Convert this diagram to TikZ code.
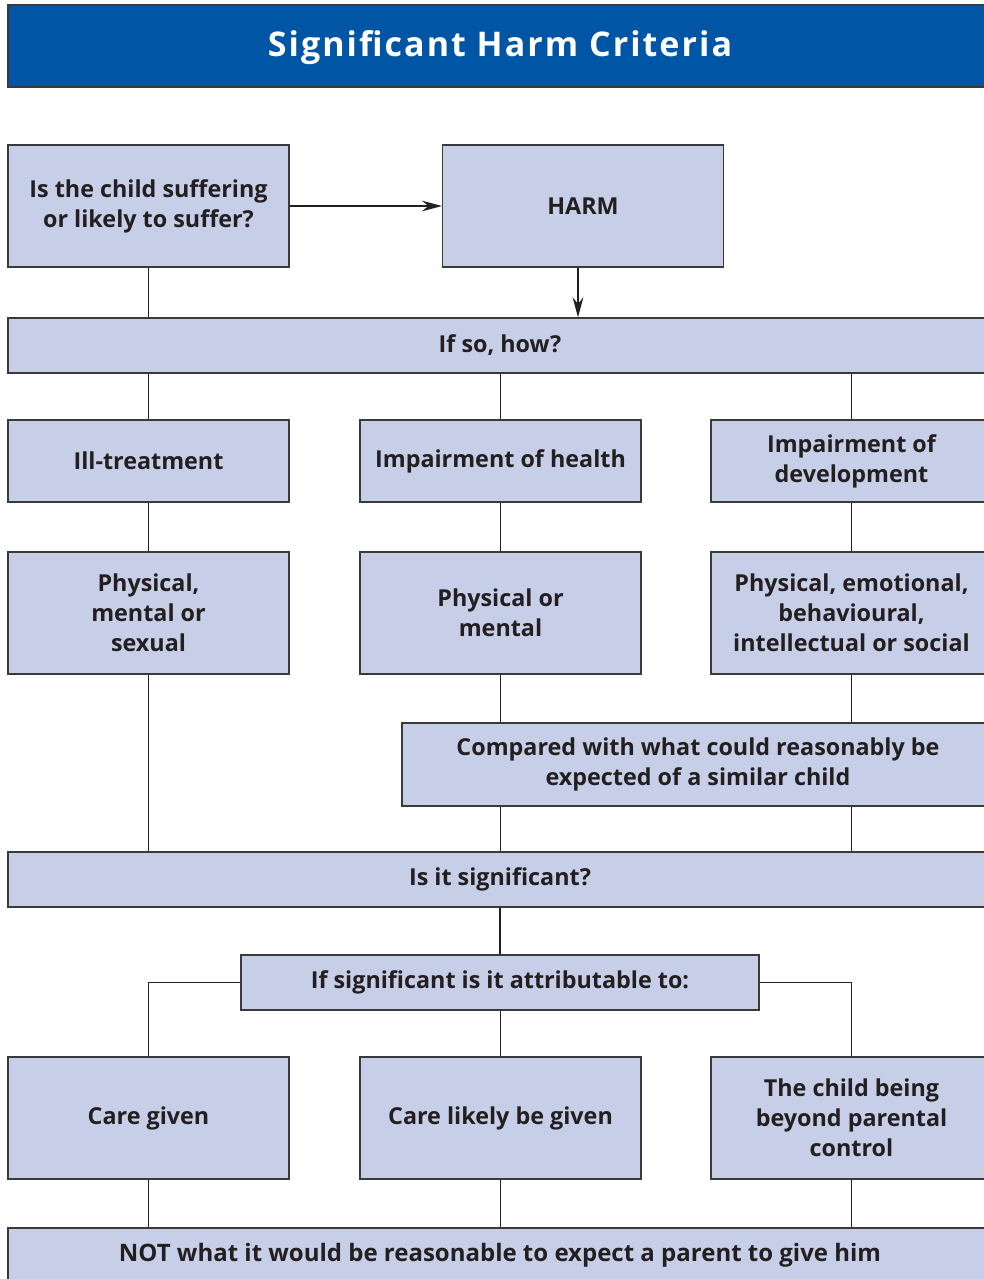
\documentclass[tikz,border=0pt]{standalone}
\usepackage{fontspec}
\setmainfont{Open Sans}
\usetikzlibrary{arrows.meta}
\definecolor{barblue}{HTML}{0055A4}
\definecolor{boxfill}{HTML}{C7CEE7}
\definecolor{boxline}{HTML}{3A3A3A}
\definecolor{ink}{HTML}{231F20}
\tikzset{
  box/.style={draw=boxline, line width=0.9pt, fill=boxfill, align=center,
    inner sep=0pt, font=\fontsize{17.5}{22.5}\selectfont\bfseries, text=ink},
  wide/.style={box, minimum width=738pt, minimum height=#1},
  cell/.style={box, minimum width=210.75pt, minimum height=#1},
  link/.style={line width=1.1pt, draw=ink},
  arr/.style={link, -{Stealth[length=15pt, width=8pt]}}
}
\begin{document}
\begin{tikzpicture}[x=0.75pt, y=-0.75pt]
\clip (0,0) rectangle (984,1279);
\fill[white] (0,0) rectangle (984,1279);

% title bar
\node[draw=boxline, line width=0.9pt, fill=barblue, minimum width=744pt, minimum height=61.5pt,
  inner sep=0pt] (title) at (504,46) {};
\node[text=white, font=\fontsize{25.5}{28}\selectfont\bfseries\addfontfeatures{LetterSpace=6}, inner sep=0pt]
  (titletext) at (500,48) {Significant Harm Criteria};

% top row
\node[cell=91.5pt] (q) at (148.5,206) {Is the child suffering\\or likely to suffer?};
\node[cell=91.5pt] (harm) at (583,206) {HARM};

% first band
\node[wide=41.25pt] (how) at (500,345.5) {If so, how?};

% second row
\node[cell=61.5pt] (ill) at (148.5,461) {Ill-treatment};
\node[cell=61.5pt] (ih) at (500.5,461) {Impairment of health};
\node[cell=61.5pt] (id) at (851.5,461) {Impairment of\\development};

% third row
\node[cell=91.5pt] (pms) at (148.5,613) {Physical,\\mental or\\sexual};
\node[cell=91.5pt] (pm) at (500.5,613) {Physical or\\mental};
\node[cell=91.5pt] (pe) at (851.5,613) {Physical, emotional,\\behavioural,\\intellectual or social};

% comparison
\node[box, minimum width=444pt, minimum height=62.25pt] (cmp) at (698,764.5)
  {Compared with what could reasonably be\\expected of a similar child};

% significance band
\node[wide=41.25pt] (sig) at (500,879.5) {Is it significant?};

% attribution
\node[box, minimum width=388.5pt, minimum height=41.25pt] (attr) at (500,982.5)
  {If significant is it attributable to:};

% fourth row
\node[cell=91.5pt] (cg) at (148.5,1118) {Care given};
\node[cell=91.5pt] (cl) at (500.5,1118) {Care likely be given};
\node[cell=91.5pt] (cb) at (851.5,1118) {The child being\\beyond parental\\control};

% bottom band and its text
\node[wide=48pt] (not) at (500,1260) {};
\node[font=\fontsize{18}{22.5}\selectfont\bfseries, text=ink, inner sep=0pt] (nottext) at (500,1255)
  {NOT what it would be reasonable to expect a parent to give him};

% connectors
\draw[arr] (q) -- (harm);
\draw[arr] ([xshift=-3.75pt]harm.south) -- ([xshift=-3.75pt]harm.south |- how.north);
\draw[link] (q.south) -- (q.south |- how.north);

\draw[link] (ill.north |- how.south) -- (ill.north);
\draw[link] (ih.north |- how.south) -- (ih.north);
\draw[link] (id.north |- how.south) -- (id.north);

\draw[link] (ill.south) -- (pms.north);
\draw[link] (ih.south) -- (pm.north);
\draw[link] (id.south) -- (pe.north);

\draw[link] (pms.south) -- (pms.south |- sig.north);
\draw[link] (pm.south) -- (pm.south |- cmp.north);
\draw[link] (pe.south) -- (pe.south |- cmp.north);
\draw[link] (pm.south |- cmp.south) -- (pm.south |- sig.north);
\draw[link] (pe.south |- cmp.south) -- (pe.south |- sig.north);

\draw[link] (sig.south -| attr.north) -- (attr.north);
\draw[link] (attr.west) -- (cg.north |- attr.west) -- (cg.north);
\draw[link] (attr.east) -- (cb.north |- attr.east) -- (cb.north);
\draw[link] (attr.south -| cl.north) -- (cl.north);

\draw[link] (cg.south) -- (cg.south |- not.north);
\draw[link] (cl.south) -- (cl.south |- not.north);
\draw[link] (cb.south) -- (cb.south |- not.north);
\end{tikzpicture}
\end{document}
